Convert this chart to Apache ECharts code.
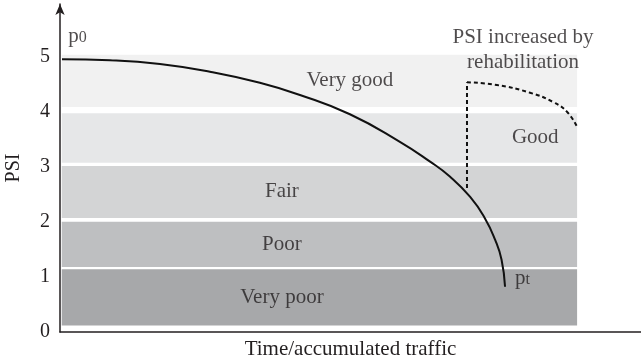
<!DOCTYPE html>
<html>
<head>
<meta charset="utf-8">
<script src="https://cdn.jsdelivr.net/npm/echarts@6/dist/echarts.min.js"></script>
<style>
  html, body { margin: 0; padding: 0; background: #fff; }
  #container { width: 641px; height: 364px; }
</style>
</head>
<body>
<div id="container"></div>
<script>
// condition bands (PSI ranges), bottom to top
var grades = ['Very poor', 'Poor', 'Fair', 'Good', 'Very good'];
var gradeLow = [0.12, 1.18, 2.07, 3.07, 4.08];
var gradeHigh = [1.14, 2.0, 3.01, 3.97, 5.03];
var gradeLabelX = [38.2, 38.2, 38.2, 81.8, 49.9];
var bandStart = 0.3, bandEnd = 89;

// deterioration curve p0 -> pt
var trafficX = [0.34, 8.6, 17.2, 25.8, 34.4, 41.3, 49.9, 58.5, 63.7, 67.1, 70.6, 73.1, 74.9, 76.0, 76.6];
var psiY = [4.95, 4.93, 4.86, 4.72, 4.52, 4.30, 3.95, 3.45, 3.09, 2.82, 2.45, 2.07, 1.67, 1.31, 0.82];

// rehabilitation jump and the new curve after it
var rehabAt = 70.05;
var rehabJump = [2.61, 4.53];
var rehabX = [70.05, 75.2, 80.9, 84.9, 87.3, 89.0];
var rehabY = [4.53, 4.48, 4.34, 4.17, 3.99, 3.72];

var yTicks = [0, 1, 2, 3, 4, 5];

var bandColors = ['#a7a8aa', '#bebfc1', '#d3d4d5', '#e6e7e8', '#f1f1f1'];
var serif = 'Liberation Serif';
var ink = '#231f20';

var dom = document.getElementById('container');
var myChart = echarts.init(dom);

var bandAreas = grades.map(function (g, i) {
    return [
        { xAxis: bandStart, yAxis: gradeLow[i], itemStyle: { color: bandColors[i] } },
        { xAxis: bandEnd, yAxis: gradeHigh[i] }
    ];
});

var gradeLabels = grades.map(function (g, i) {
    return { name: g, value: [gradeLabelX[i], (gradeLow[i] + gradeHigh[i]) / 2] };
});

var option = {
    animation: false,
    grid: { left: 60, right: 0, top: 4, bottom: 32, outerBoundsMode: 'none', containLabel: false },
    xAxis: {
        type: 'value',
        min: 0,
        max: 100,
        name: 'Time/accumulated traffic',
        nameLocation: 'middle',
        nameGap: 7,
        nameTextStyle: { fontFamily: serif, fontSize: 21, color: ink, verticalAlign: 'top' },
        axisLine: { lineStyle: { color: ink, width: 1.5 } },
        axisTick: { show: false },
        axisLabel: { show: false },
        splitLine: { show: false }
    },
    yAxis: {
        type: 'value',
        min: 0,
        max: 5.95,
        interval: 1,
        name: 'PSI',
        nameLocation: 'middle',
        nameGap: 36,
        nameTextStyle: { fontFamily: serif, fontSize: 20, color: ink },
        axisLine: {
            show: true,
            symbol: ['none', 'arrow'],
            symbolSize: [7, 11],
            lineStyle: { color: ink, width: 1.5 }
        },
        axisTick: { show: false },
        axisLabel: {
            margin: 10,
            fontFamily: serif,
            fontSize: 20,
            color: ink,
            showMaxLabel: false,
            formatter: function (v) { return yTicks.indexOf(v) >= 0 ? String(v) : ''; }
        },
        splitLine: { show: false }
    },
    series: [
        {
            name: 'bands',
            type: 'line',
            data: [],
            silent: true,
            markArea: { silent: true, data: bandAreas }
        },
        {
            name: 'PSI',
            type: 'line',
            z: 5,
            smooth: true,
            symbol: 'none',
            lineStyle: { color: '#111', width: 2 },
            data: trafficX.map(function (x, i) { return [x, psiY[i]]; })
        },
        {
            name: 'rehab jump',
            type: 'line',
            z: 5,
            symbol: 'none',
            lineStyle: { color: '#111', width: 2, type: [4, 3] },
            data: rehabJump.map(function (y) { return [rehabAt, y]; })
        },
        {
            name: 'rehab curve',
            type: 'line',
            z: 5,
            smooth: true,
            symbol: 'none',
            lineStyle: { color: '#111', width: 2, type: [4, 3] },
            data: rehabX.map(function (x, i) { return [x, rehabY[i]]; })
        },
        {
            name: 'labels',
            type: 'scatter',
            z: 6,
            symbolSize: 0,
            silent: true,
            label: {
                show: true,
                position: 'inside',
                formatter: '{b}',
                fontFamily: serif,
                fontSize: 21,
                color: ink
            },
            data: gradeLabels.concat([
                { name: 'PSI increased by\nrehabilitation', value: [79.7, 5.12], label: { lineHeight: 25 } }
            ])
        },
        {
            name: 'endpoints',
            type: 'scatter',
            z: 6,
            symbolSize: 0,
            silent: true,
            label: {
                show: true,
                position: 'inside',
                align: 'left',
                formatter: function (p) { return '{p|p}{s|' + p.name + '}'; },
                rich: {
                    p: { fontFamily: serif, fontSize: 21, color: ink, lineHeight: 22, verticalAlign: 'bottom' },
                    s: { fontFamily: serif, fontSize: 16, color: ink, lineHeight: 22, verticalAlign: 'bottom', padding: [0, 0, 1, 0] }
                }
            },
            data: [
                { name: '0', value: [1.4, 5.37] },
                { name: 't', value: [78.3, 0.98] }
            ]
        }
    ]
};

myChart.setOption(option);
</script>
</body>
</html>
